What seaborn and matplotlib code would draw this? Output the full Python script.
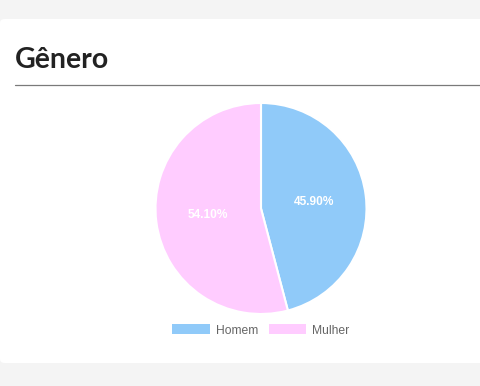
import matplotlib
matplotlib.use("Agg")
import matplotlib.pyplot as plt
import seaborn as sns
from matplotlib.patches import FancyBboxPatch, Patch
from matplotlib.lines import Line2D

categories = ["Homem", "Mulher"]
values = [45.90, 54.10]
colors = ["#90caf9", "#ffccff"]
title = "Gênero"

sns.set_style("white")
plt.rcParams["font.family"] = ["Liberation Sans", "DejaVu Sans"]

W, H = 481, 386
fig = plt.figure(figsize=(W / 100, H / 100), dpi=100)
fig.patch.set_facecolor("#f4f4f4")

def fx(x): return x / W
def fy(y): return 1 - y / H

card = FancyBboxPatch((fx(0), fy(363)), fx(490), (363 - 19) / H,
                      boxstyle="round,pad=0,rounding_size=0.01",
                      transform=fig.transFigure, facecolor="white",
                      edgecolor="none", zorder=-5)
fig.patches.append(card)

fig.text(fx(15), fy(68), title, fontsize=20.5, fontweight="bold",
         family=["Lato", "DejaVu Sans"], color="#222222", va="baseline", ha="left")
fig.add_artist(Line2D([fx(15), fx(481)], [fy(85), fy(85)],
                      transform=fig.transFigure, color="#7a7a7a", linewidth=0.9))

cx, cy, r = 261, 208.5, 105.5
ax = fig.add_axes([fx(cx - r), fy(cy + r), 2 * r / W, 2 * r / H])
ax.set_zorder(5)
ax.set_facecolor("none")
wedges, texts, autotexts = ax.pie(
    values, colors=colors, startangle=90, counterclock=False,
    autopct="%.2f%%", pctdistance=0.51, radius=1,
    wedgeprops=dict(edgecolor="white", linewidth=1.5),
    textprops=dict(color="white", fontweight="bold", fontsize=8.6))
ax.set_xlim(-1.0, 1.0)
ax.set_ylim(-1.0, 1.0)
ax.set_aspect("equal")
ax.axis("off")

handles = [Patch(facecolor=c, edgecolor="white", linewidth=0) for c in colors]
leg = fig.legend(handles, categories, loc="center", bbox_to_anchor=(fx(261), fy(330.5)),
                 ncol=2, frameon=False, fontsize=8.7, handlelength=3.1,
                 handleheight=0.85, handletextpad=0.5, columnspacing=0.9,
                 borderaxespad=0, borderpad=0)
for t in leg.get_texts():
    t.set_color("#666666")

fig.savefig("out.png", dpi=100, facecolor=fig.get_facecolor())
